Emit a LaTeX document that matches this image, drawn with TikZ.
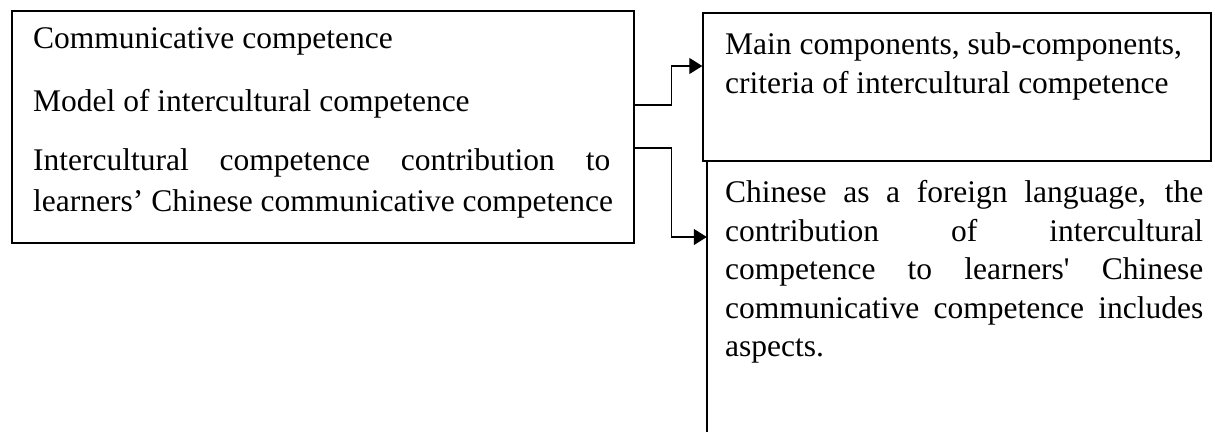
\documentclass[tikz,border=0pt]{standalone}
\usepackage{fontspec}
\setmainfont{Liberation Serif}
\usetikzlibrary{arrows.meta}
\begin{document}
\begin{tikzpicture}[x=1pt,y=-1pt,
  box/.style={draw=black,line width=1.4pt,rectangle,inner sep=0pt},
  txt/.style={anchor=base west,inner sep=0pt,font=\fontsize{31.5}{38.5}\selectfont},
  arr/.style={line width=1.2pt,-{Triangle[length=13pt,width=16pt]}}]
\useasboundingbox (0,0) rectangle (1215,432);
% boxes
\node[box,minimum width=622pt,minimum height=232pt] (L) at (323,127) {};
\node[box,minimum width=508pt,minimum height=148pt] (R1) at (957,87) {};
\node[rectangle,inner sep=0pt,minimum width=504pt,minimum height=271pt] (R2) at (959,296.5) {};
\draw[line width=1.4pt] (R2.north west) -- (R2.south west);
% left texts
\node[txt] (t1) at (33,48) {Communicative competence};
\node[txt] (t2) at (33,111) {Model of intercultural competence};
\node[txt] (t3) at (33,170) {\makebox[577pt][s]{Intercultural competence contribution to}};
\node[txt] (t4) at (33,211) {learners’ Chinese communicative competence};
% right top texts
\node[txt] (r1) at (725,54) {Main components, sub-components,};
\node[txt] (r2) at (725,93) {criteria of intercultural competence};
% right bottom paragraph
\node[txt] (p1) at (725,202) {\makebox[478pt][s]{Chinese as a foreign language, the}};
\node[txt] (p2) at (725,241) {\makebox[478pt][s]{contribution of intercultural}};
\node[txt] (p3) at (725,279.5) {\makebox[478pt][s]{competence to learners\textquotesingle{} Chinese}};
\node[txt] (p4) at (725,318) {\makebox[478pt][s]{communicative competence includes}};
\node[txt] (p5) at (725,356.5) {aspects.};
% connectors
\draw[arr] ([yshift=22pt]L.east) -- ++(37,0) |- ([yshift=21pt]R1.west);
\draw[arr] ([yshift=-21pt]L.east) -- ++(37,0) |- ([yshift=59.5pt]R2.west);
\end{tikzpicture}
\end{document}
